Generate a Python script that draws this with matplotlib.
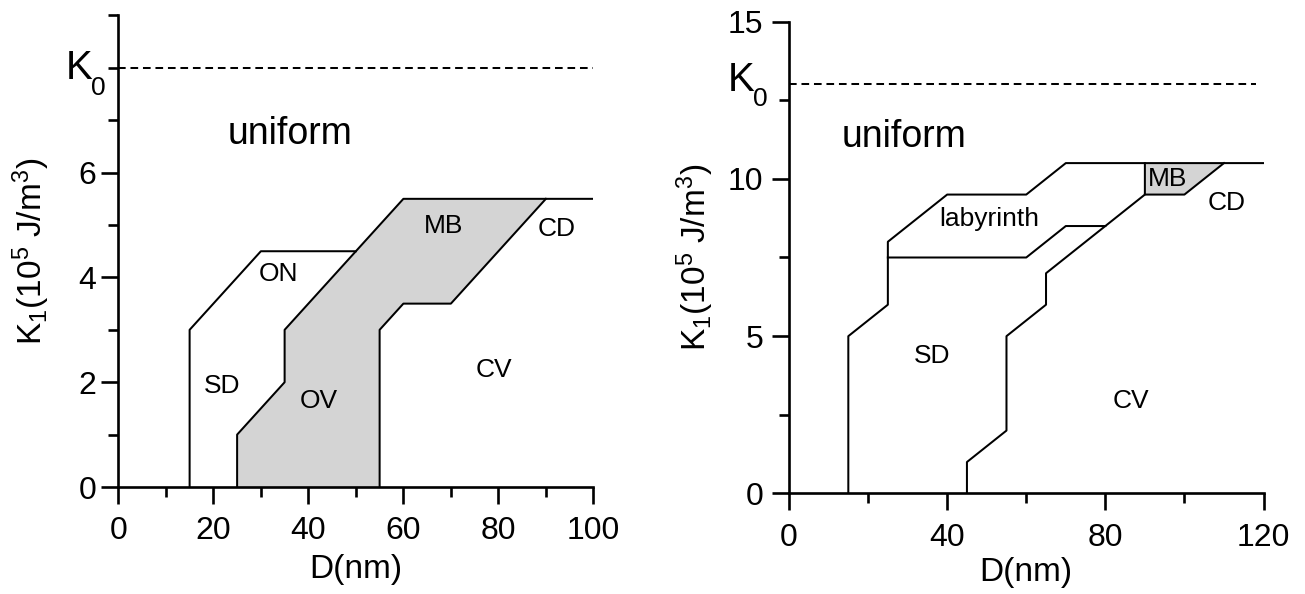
import matplotlib.pyplot as plt
from matplotlib.ticker import FixedLocator

plt.rcParams['font.family'] = ['Liberation Sans', 'DejaVu Sans']
plt.rcParams['mathtext.default'] = 'regular'

# left diagram: D from 0 to 100 nm
k0_left = 8
sd_d = [15, 15, 30, 50]
sd_k = [0, 3, 4.5, 4.5]
ov_left_d = [25, 25, 35, 35, 60, 100]
ov_left_k = [0, 1, 2, 3, 5.5, 5.5]
ov_right_d = [55, 55, 60, 70, 90]
ov_right_k = [0, 3, 3.5, 3.5, 5.5]

# right diagram: D from 0 to 120 nm
k0_right = 13
lab_top_d = [15, 15, 25, 25, 40, 60, 70, 120]
lab_top_k = [0, 5, 6, 8, 9.5, 9.5, 10.5, 10.5]
lab_bot_d = [25, 60, 70, 80]
lab_bot_k = [7.5, 7.5, 8.5, 8.5]
cv_d = [45, 45, 55, 55, 65, 65, 90, 90]
cv_k = [0, 1, 2, 5, 6, 7, 9.5, 10.5]
cd_d = [90, 100, 110]
cd_k = [9.5, 9.5, 10.5]

GRAY = '#d4d4d4'
LW = 1.45


def style_axes(ax, xmax, ymax, xmaj, xmin, ymaj, ymin, ypad):
    ax.set_xlim(0, xmax)
    ax.set_ylim(0, ymax)
    for s in ['top', 'right']:
        ax.spines[s].set_visible(False)
    for s in ['left', 'bottom']:
        ax.spines[s].set_linewidth(1.9)
    ax.xaxis.set_major_locator(FixedLocator(xmaj))
    ax.xaxis.set_minor_locator(FixedLocator(xmin))
    ax.yaxis.set_major_locator(FixedLocator(ymaj))
    ax.yaxis.set_minor_locator(FixedLocator(ymin))
    ax.tick_params(which='major', length=12, width=1.9, labelsize=23)
    ax.tick_params(which='minor', length=7, width=1.9)
    ax.tick_params(axis='x', which='major', pad=9)
    ax.tick_params(axis='y', which='major', pad=ypad)
    ax.set_xlabel('D(nm)', fontsize=24)
    ax.set_ylabel('K$_1$(10$^5$ J/m$^3$)', fontsize=24)


def k0_label(ax, y, dx, dy_k, dy_0):
    ax.annotate('K', xy=(0, y), xytext=(dx, dy_k), textcoords='offset pixels',
                fontsize=29, ha='right', va='baseline', annotation_clip=False)
    ax.annotate('0', xy=(0, y), xytext=(dx - 1, dy_0), textcoords='offset pixels',
                fontsize=19, ha='left', va='baseline', annotation_clip=False)


fig = plt.figure(figsize=(13.05, 5.94), dpi=100)

# ---- left panel
ax1 = fig.add_axes([0.0907, 0.1801, 0.3640, 0.7939])
poly_d = ov_left_d[:5] + ov_right_d[::-1]
poly_k = ov_left_k[:5] + ov_right_k[::-1]
ax1.fill(poly_d, poly_k, color=GRAY, lw=0)
ax1.plot(sd_d, sd_k, color='k', lw=LW)
ax1.plot(ov_left_d, ov_left_k, color='k', lw=LW)
ax1.plot(ov_right_d, ov_right_k, color='k', lw=LW)
ax1.plot([0, 100], [k0_left, k0_left], color='k', lw=LW,
         linestyle=(0, (3.8, 2.4)))
style_axes(ax1, 100, 9, range(0, 101, 20), range(10, 100, 20),
           [0, 2, 4, 6], [1, 3, 5, 7, 8, 9], 4)
ax1.xaxis.set_label_coords(0.5, -0.142)
ax1.yaxis.set_label_coords(-0.1396, 0.5)
k0_label(ax1, k0_left, -26, -11, -27)

ax1.text(36.2, 6.55, 'uniform', fontsize=27, ha='center', va='baseline')
for txt, d, k in [('ON', 33.7, 3.93), ('SD', 21.9, 1.80), ('OV', 42.1, 1.50),
                  ('MB', 68.5, 4.85), ('CD', 92.2, 4.79), ('CV', 79.1, 2.10)]:
    ax1.text(d, k, txt, fontsize=19, ha='center', va='baseline')

# ---- right panel
ax2 = fig.add_axes([0.6046, 0.1692, 0.3636, 0.7946])
ax2.fill(cv_d[-2:] + cd_d[::-1], cv_k[-2:] + cd_k[::-1], color=GRAY, lw=0)
ax2.plot(lab_top_d, lab_top_k, color='k', lw=LW)
ax2.plot(lab_bot_d, lab_bot_k, color='k', lw=LW)
ax2.plot(cv_d, cv_k, color='k', lw=LW)
ax2.plot(cd_d, cd_k, color='k', lw=LW)
ax2.plot([0, 118], [k0_right, k0_right], color='k', lw=LW,
         linestyle=(0, (3.8, 2.4)))
style_axes(ax2, 120, 15, [0, 40, 80, 120], [20, 60, 100],
           [0, 5, 10, 15], [2.5, 7.5, 12.5], 6.5)
ax2.xaxis.set_label_coords(0.5, -0.135)
ax2.yaxis.set_label_coords(-0.154, 0.5)
k0_label(ax2, k0_right, -35, -7, -22)

ax2.text(29.2, 11.0, 'uniform', fontsize=27, ha='center', va='baseline')
for txt, d, k in [('labyrinth', 50.6, 8.50), ('MB', 95.7, 9.78),
                  ('CD', 110.7, 9.01), ('SD', 36.2, 4.14), ('CV', 86.5, 2.73)]:
    ax2.text(d, k, txt, fontsize=19, ha='center', va='baseline')

fig.savefig('out.png', dpi=100)
